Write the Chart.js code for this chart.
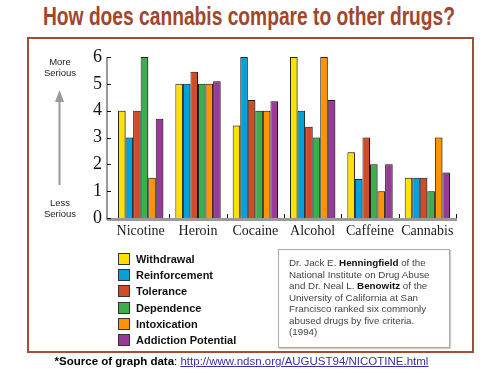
<!DOCTYPE html>
<html>
<head>
<meta charset="utf-8">
<script src="https://cdn.jsdelivr.net/npm/chart.js@4/dist/chart.umd.min.js"></script>
<style>
  body { margin: 0; width: 483px; height: 374px; background: #fff; position: relative; overflow: hidden; font-family: "Liberation Sans", Arial, sans-serif; }
  #frame { position: absolute; left: 27px; top: 37px; width: 443px; height: 312px; border: 2px solid #a24d36; }
  #title { position: absolute; left: 249px; top: 2px; white-space: nowrap; font: bold 25px "Liberation Sans Narrow", "Liberation Sans", Arial, sans-serif; color: #a1462d; transform-origin: 0 0; }
  canvas { position: absolute; left: 0; top: 0; }
  .side { position: absolute; width: 60px; left: 30px; text-align: center; font-size: 9.5px; line-height: 10.5px; color: #222; }
  #legend { position: absolute; left: 118px; top: 251px; }
  .row { height: 16.2px; display: flex; align-items: center; font-weight: bold; font-size: 11px; color: #111; }
  .sw { width: 10px; height: 10px; border: 1px solid #333; margin-right: 6px; }
  #note { position: absolute; left: 278px; top: 249px; width: 160px; height: 90px; border: 1.5px solid #aaa; box-shadow: 1px 1px 1px #ccc; padding: 7px 0 0 10px; box-sizing: content-box; font-size: 9.8px; line-height: 11.5px; color: #444; white-space: nowrap; }
  #note b { color: #111; }
  #source { position: absolute; left: 0; top: 355px; width: 483px; text-align: center; font-size: 11.5px; white-space: nowrap; }
  #source a { color: #3a2fa6; }
</style>
</head>
<body>
<div id="frame"></div>
<div id="title">How does cannabis compare to other drugs?</div>
<canvas id="barChart" width="483" height="374"></canvas>
<div class="side" style="top:57px">More<br>Serious</div>
<div class="side" style="top:198px">Less<br>Serious</div>
<div id="legend"></div>
<div id="note">Dr. Jack E. <b>Henningfield</b> of the<br>National Institute on Drug Abuse<br>and Dr. Neal L. <b>Benowitz</b> of the<br>University of California at San<br>Francisco ranked six commonly<br>abused drugs by five criteria.<br>(1994)</div>
<div id="source"><b>*Source of graph data</b>: <a href="#">http://www.ndsn.org/AUGUST94/NICOTINE.html</a></div>
<script>
// drugs on the x axis
const drugs = ['Nicotine', 'Heroin', 'Cocaine', 'Alcohol', 'Caffeine', 'Cannabis'];
const yTicks = [0, 1, 2, 3, 4, 5, 6];

// one array per criterion
const withdrawal    = [4,   5,    3.45, 6,   2.45, 1.5];
const reinforcement = [3,   5,    6,    4,   1.45, 1.5];
const tolerance     = [4,   5.45, 4.4,  3.4, 3,    1.5];
const dependence    = [6,   5,    4,    3,   2,    1];
const intoxication  = [1.5, 5,    4,    6,   1,    3];
const addiction     = [3.7, 5.1,  4.35, 4.4, 2,    1.7];

const seriesNames = ['Withdrawal', 'Reinforcement', 'Tolerance', 'Dependence', 'Intoxication', 'Addiction Potential'];
const seriesValues = [withdrawal, reinforcement, tolerance, dependence, intoxication, addiction];
const colors = ['#ffe100', '#00a1dc', '#d14b29', '#3bb04a', '#ff9300', '#983b98'];

// the gray axis lines and small black ticks
const axisPlugin = {
    id: 'axisLines',
    beforeDatasetsDraw(chart) {
        const c = chart.ctx;
        c.save();
        c.shadowColor = 'rgba(0,0,0,0.3)';
        c.shadowOffsetX = 1.5;
        c.shadowOffsetY = 0;
        c.shadowBlur = 0;
    },
    afterDatasetsDraw(chart) {
        chart.ctx.restore();
    },
    afterDraw(chart) {
        const c = chart.ctx;
        const a = chart.chartArea;
        const xs = chart.scales.x, ys = chart.scales.y;
        c.save();
        // y line
        c.strokeStyle = '#9a9a9a';
        c.lineWidth = 2;
        c.beginPath();
        c.moveTo(a.left - 5, ys.top);
        c.lineTo(a.left - 5, a.bottom + 2);
        c.stroke();
        // x line
        c.lineWidth = 3;
        c.beginPath();
        c.moveTo(a.left - 5, a.bottom + 1.5);
        c.lineTo(a.right + 1, a.bottom + 1.5);
        c.stroke();
        c.strokeStyle = '#111';
        c.lineWidth = 1;
        c.beginPath();
        yTicks.forEach(v => {
            const py = Math.round(ys.getPixelForValue(v)) + 0.5;
            c.moveTo(a.left - 5, py);
            c.lineTo(a.left - 1, py);
        });
        for (let i = 1; i <= drugs.length; i++) {
            const px = i < drugs.length
                ? Math.round((xs.getPixelForValue(i - 1) + xs.getPixelForValue(i)) / 2) + 0.5
                : a.right + 0.5;
            c.moveTo(px, a.bottom);
            c.lineTo(px, a.bottom - 4);
        }
        c.stroke();
        c.restore();
    }
};

const ctx = document.getElementById('barChart').getContext('2d');
const barChart = new Chart(ctx, {
    type: 'bar',
    data: {
        labels: drugs,
        datasets: seriesNames.map((name, i) => ({
            label: name,
            data: seriesValues[i],
            backgroundColor: colors[i],
            borderColor: '#222',
            borderWidth: 1,
            borderSkipped: 'bottom',
            categoryPercentage: 0.79,
            barPercentage: 1,
        })),
    },
    options: {
        responsive: false,
        animation: false,
        layout: { padding: { left: 0, top: 57, right: 27, bottom: 0 } },
        plugins: { legend: { display: false }, tooltip: { enabled: false } },
        scales: {
            x: {
                grid: { display: false },
                border: { display: false },
                ticks: {
                    color: '#1a1a1a',
                    font: { family: 'Liberation Serif', size: 14 },
                    padding: -3,
                    maxRotation: 0,
                    minRotation: 0,
                    autoSkip: false,
                },
                afterFit: s => { s.height = 156; },
            },
            y: {
                min: 0,
                max: 6,
                grid: { display: false, drawTicks: false },
                border: { display: false },
                ticks: {
                    stepSize: 1,
                    padding: 10,
                    color: '#111',
                    font: { family: 'Liberation Serif', size: 18 },
                },
                afterFit: s => { s.width = 112; },
            },
        },
    },
    plugins: [axisPlugin],
});

// legend built from the same arrays
const legend = document.getElementById('legend');
seriesNames.forEach((name, i) => {
    const row = document.createElement('div');
    row.className = 'row';
    row.innerHTML = '<span class="sw" style="background:' + colors[i] + '"></span>' + name;
    legend.appendChild(row);
});

// squeeze title to the width seen in the picture, centred on x=249
const t = document.getElementById('title');
const w = t.getBoundingClientRect().width;
t.style.transform = 'scaleX(' + (412 / w) + ') translateX(-50%)';

// arrow between the side labels
ctx.save();
ctx.strokeStyle = '#999';
ctx.fillStyle = '#999';
ctx.lineWidth = 2;
ctx.beginPath();
ctx.moveTo(59.5, 185);
ctx.lineTo(59.5, 100);
ctx.stroke();
ctx.beginPath();
ctx.moveTo(59.5, 90);
ctx.lineTo(55, 102);
ctx.lineTo(64, 102);
ctx.closePath();
ctx.fill();
ctx.restore();
</script>
</body>
</html>
